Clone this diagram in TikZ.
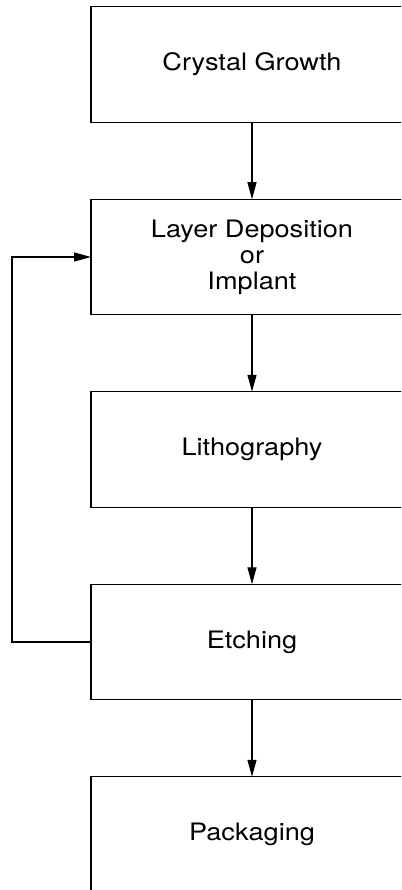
\documentclass[tikz,border=0pt]{standalone}
\usepackage{fontspec}
\setmainfont[FakeStretch=1.13]{TeX Gyre Heros}
\usetikzlibrary{positioning,arrows.meta}

\begin{document}
\begin{tikzpicture}[x=1pt, y=1pt, node distance = 77pt,
StepStyle/.style={draw, line width=1.2pt, minimum width=322pt,
                minimum height=115.5pt, inner sep=0pt, outer sep=0pt,
                align=center, font=\fontsize{24}{26}\selectfont},
FlowArrow/.style={-{Triangle[length=17pt, width=9pt]}, line width=1.2pt},]
% page frame, boxes run off the right and bottom edge
\useasboundingbox (0,0) rectangle (401,-890);
\clip (0,0) rectangle (401,-890);

\node [StepStyle] (grow) at (252,-64.5) {Crystal Growth};
\node [StepStyle, below=of grow] (depo) {Layer Deposition\\or\\Implant};
\node [StepStyle, below=of depo] (litho) {Lithography};
\node [StepStyle, below=of litho] (etch) {Etching};
\node [StepStyle, below=of etch] (pack) {Packaging};

\draw [FlowArrow] (grow) -- (depo);
\draw [FlowArrow] (depo) -- (litho);
\draw [FlowArrow] (litho) -- (etch);
\draw [FlowArrow] (etch) -- (pack);
% loop back for the next layer
\draw [FlowArrow] (etch.west) -- ++(-79,0) |- (depo.west);
\end{tikzpicture}
\end{document}
